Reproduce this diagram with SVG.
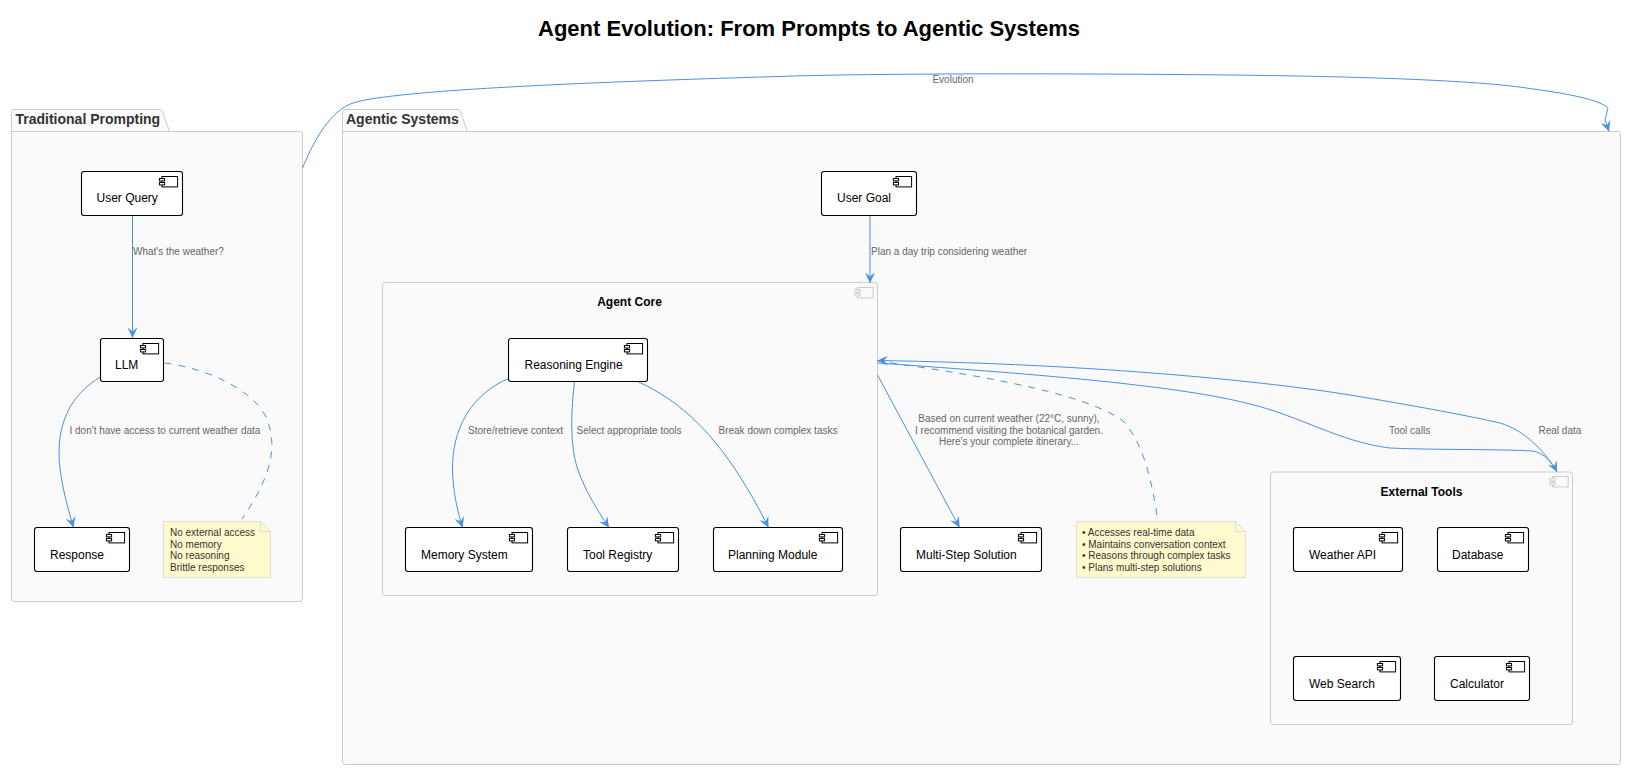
<svg xmlns="http://www.w3.org/2000/svg" width="1626" height="770" viewBox="0 0 1626 770">
<defs>
<marker id="arrow" markerUnits="userSpaceOnUse" markerWidth="12" markerHeight="11" viewBox="0 0 12 11" refX="11" refY="5.5" orient="auto"><path d="M11,5.5 L0.5,0.5 L4.5,5.5 L0.5,10.5 Z" fill="#4A90E2"/></marker>
<g id="icon"><rect x="0" y="0" width="15.6" height="10.4" fill="#fff" stroke="#000" stroke-width="1"/><rect x="-2.6" y="2" width="5.2" height="2.4" fill="#fff" stroke="#000" stroke-width="1"/><rect x="-2.6" y="6" width="5.2" height="2.4" fill="#fff" stroke="#000" stroke-width="1"/></g>
<g id="iconGrey"><rect x="0" y="0" width="15.6" height="10.4" fill="#FAFAFA" stroke="#ccc" stroke-width="1"/><rect x="-2.6" y="2" width="5.2" height="2.4" fill="#FAFAFA" stroke="#ccc" stroke-width="1"/><rect x="-2.6" y="6" width="5.2" height="2.4" fill="#FAFAFA" stroke="#ccc" stroke-width="1"/></g>
</defs>
<style>
text{font-family:"Liberation Sans",Arial,sans-serif}
.title{font-size:22px;font-weight:bold;fill:#000}
.pkg{font-size:14px;font-weight:bold;fill:#333}
.frame{fill:#FAFAFA;stroke:#ccc;stroke-width:1}
.box{fill:#fff;stroke:#000;stroke-width:1.1}
.nlabel{font-size:12px;fill:#000}
.ctitle{font-size:12px;font-weight:bold;fill:#000}
.elabel{font-size:10px;fill:#666}
.ntext{font-size:10px;fill:#333}
.note{fill:#FFFACD;stroke:#ddd;stroke-width:1}
.edge{fill:none;stroke:#4A90E2;stroke-width:1;marker-end:url(#arrow)}
.dash{fill:none;stroke:#4A90E2;stroke-width:1;stroke-dasharray:7,7}
</style>
<rect width="1626" height="770" fill="#fff"/>
<text class="title" x="809" y="36" text-anchor="middle">Agent Evolution: From Prompts to Agentic Systems</text>

<g id="traditional-prompting">
<path class="frame" d="M11.5,131.5 V112 Q11.5,109.5 14,109.5 H160 Q162,109.5 162.5,111.5 L169.5,131.5 H300 Q302.5,131.5 302.5,134 V599 Q302.5,601.5 300,601.5 H14 Q11.5,601.5 11.5,599 Z"/>
<path d="M11.5,131.5 H169.5" fill="none" stroke="#ccc"/>
<text class="pkg" x="15.5" y="124">Traditional Prompting</text>
</g>
<g id="agentic-systems">
<path class="frame" d="M342.5,131.5 V112 Q342.5,109.5 345,109.5 H458 Q460,109.5 460.5,111.5 L467.5,131.5 H1618 Q1620.5,131.5 1620.5,134 V762 Q1620.5,764.5 1618,764.5 H345 Q342.5,764.5 342.5,762 Z"/>
<path d="M342.5,131.5 H467.5" fill="none" stroke="#ccc"/>
<text class="pkg" x="346" y="124">Agentic Systems</text>
</g>
<g id="agent-core">
<rect class="frame" x="382.5" y="282.5" width="495" height="313" rx="2.5"/>
<use href="#iconGrey" x="857.5" y="287.5"/>
<text class="ctitle" x="629.5" y="306" text-anchor="middle">Agent Core</text>
</g>
<g id="external-tools">
<rect class="frame" x="1270.5" y="472" width="302" height="252.5" rx="2.5"/>
<use href="#iconGrey" x="1552.5" y="476.5"/>
<text class="ctitle" x="1421.5" y="496" text-anchor="middle">External Tools</text>
</g>

<g id="connectors">
<path class="edge" d="M302.5,168 C312,145 325,120 343,108 C350,103 357,102 365,100 C420,90 560,83 778,76.5 C850,74 1000,73 1200,74.7 C1350,76 1480,80 1533,89 C1570,94 1600,100 1608,108 L1605,120 L1609,131.5"/>
<path class="edge" d="M132.5,216 V338"/>
<path class="edge" d="M100.5,377 C72,394 59,420 59,453 C59,475 66,502 73.5,527.5"/>
<path class="dash" d="M164.5,363 C205,368 250,388 265,415 C282,450 265,485 242,519"/>
<path class="edge" d="M870,216 V283"/>
<path class="edge" d="M508.5,378.5 C470,395 452,430 452.5,470 C453,490 457,510 462.5,527.5"/>
<path class="edge" d="M574.5,382 C570,420 571,450 578,470 C585,490 597,510 609,527.5"/>
<path class="edge" d="M638.5,382 C690,405 730,450 768.5,527.5"/>
<path class="edge" d="M877.5,375 L959.5,527.5"/>
<path class="edge" d="M1557,472 C1545,452 1525,430 1500,423 C1470,416 1410,405 1350,395 C1270,382 1100,364 877.5,360.5"/>
<path class="edge" d="M877.5,363 C1050,375 1180,386 1250,404 C1300,416 1340,442 1390,448 C1430,450 1500,449 1533,451 C1545,454 1552,462 1557,472"/>
<path class="dash" d="M1157,515 C1150,470 1140,438 1122,420 C1085,395 1000,378 877.5,361"/>
</g>

<g id="user-query"><rect class="box" x="81.5" y="171.5" width="101" height="44" rx="2.5"/><use href="#icon" x="162" y="176.5"/><text class="nlabel" x="96.5" y="202">User Query</text></g>
<g id="llm"><rect class="box" x="100.5" y="338.5" width="63" height="43" rx="2.5"/><use href="#icon" x="143" y="343.5"/><text class="nlabel" x="115" y="369">LLM</text></g>
<g id="response"><rect class="box" x="34.5" y="527.5" width="95" height="44" rx="2.5"/><use href="#icon" x="109" y="532.5"/><text class="nlabel" x="50" y="559">Response</text></g>
<g id="user-goal"><rect class="box" x="821.5" y="171.5" width="95" height="44" rx="2.5"/><use href="#icon" x="896" y="176.5"/><text class="nlabel" x="837" y="202">User Goal</text></g>
<g id="reasoning-engine"><rect class="box" x="508.5" y="338.5" width="139" height="43" rx="2.5"/><use href="#icon" x="627" y="343.5"/><text class="nlabel" x="524.5" y="369">Reasoning Engine</text></g>
<g id="memory-system"><rect class="box" x="405.5" y="527.5" width="127" height="44" rx="2.5"/><use href="#icon" x="512" y="532.5"/><text class="nlabel" x="421" y="559">Memory System</text></g>
<g id="tool-registry"><rect class="box" x="567.5" y="527.5" width="111" height="44" rx="2.5"/><use href="#icon" x="658" y="532.5"/><text class="nlabel" x="583" y="559">Tool Registry</text></g>
<g id="planning-module"><rect class="box" x="713.5" y="527.5" width="129" height="44" rx="2.5"/><use href="#icon" x="822" y="532.5"/><text class="nlabel" x="728" y="559">Planning Module</text></g>
<g id="multi-step-solution"><rect class="box" x="900.5" y="527.5" width="141" height="44" rx="2.5"/><use href="#icon" x="1021" y="532.5"/><text class="nlabel" x="916" y="559">Multi-Step Solution</text></g>
<g id="weather-api"><rect class="box" x="1293.5" y="527.5" width="109" height="44" rx="2.5"/><use href="#icon" x="1382" y="532.5"/><text class="nlabel" x="1309" y="559">Weather API</text></g>
<g id="database"><rect class="box" x="1437.5" y="527.5" width="91" height="44" rx="2.5"/><use href="#icon" x="1508" y="532.5"/><text class="nlabel" x="1452" y="559">Database</text></g>
<g id="web-search"><rect class="box" x="1293.5" y="656.5" width="107" height="44" rx="2.5"/><use href="#icon" x="1380" y="661.5"/><text class="nlabel" x="1309" y="688">Web Search</text></g>
<g id="calculator"><rect class="box" x="1434.5" y="656.5" width="95" height="44" rx="2.5"/><use href="#icon" x="1509" y="661.5"/><text class="nlabel" x="1450" y="688">Calculator</text></g>

<g id="note-traditional"><path class="note" d="M163.5,521.5 H260.5 L270.5,531.5 V577.5 H163.5 Z"/><path class="note" d="M260.5,521.5 V531.5 H270.5 Z"/>
<text class="ntext" x="170" y="536">No external access</text><text class="ntext" x="170" y="548">No memory</text><text class="ntext" x="170" y="559">No reasoning</text><text class="ntext" x="170" y="571">Brittle responses</text></g>
<g id="note-agentic"><path class="note" d="M1076.5,521.5 H1235.5 L1245.5,531.5 V577.5 H1076.5 Z"/><path class="note" d="M1235.5,521.5 V531.5 H1245.5 Z"/>
<text class="ntext" x="1082" y="536">• Accesses real-time data</text><text class="ntext" x="1082" y="548">• Maintains conversation context</text><text class="ntext" x="1082" y="559">• Reasons through complex tasks</text><text class="ntext" x="1082" y="571">• Plans multi-step solutions</text></g>

<g id="edge-labels">
<text class="elabel" x="953" y="83" text-anchor="middle">Evolution</text>
<text class="elabel" x="133" y="255">What's the weather?</text>
<text class="elabel" x="69.5" y="434">I don't have access to current weather data</text>
<text class="elabel" x="871" y="255">Plan a day trip considering weather</text>
<text class="elabel" x="468" y="434">Store/retrieve context</text>
<text class="elabel" x="576.5" y="434">Select appropriate tools</text>
<text class="elabel" x="718.5" y="434">Break down complex tasks</text>
<text class="elabel" x="1009" y="422" text-anchor="middle">Based on current weather (22°C, sunny),</text>
<text class="elabel" x="1009" y="434" text-anchor="middle">I recommend visiting the botanical garden.</text>
<text class="elabel" x="1009" y="445" text-anchor="middle">Here's your complete itinerary...</text>
<text class="elabel" x="1389" y="434">Tool calls</text>
<text class="elabel" x="1538.5" y="434">Real data</text>
</g>
</svg>
